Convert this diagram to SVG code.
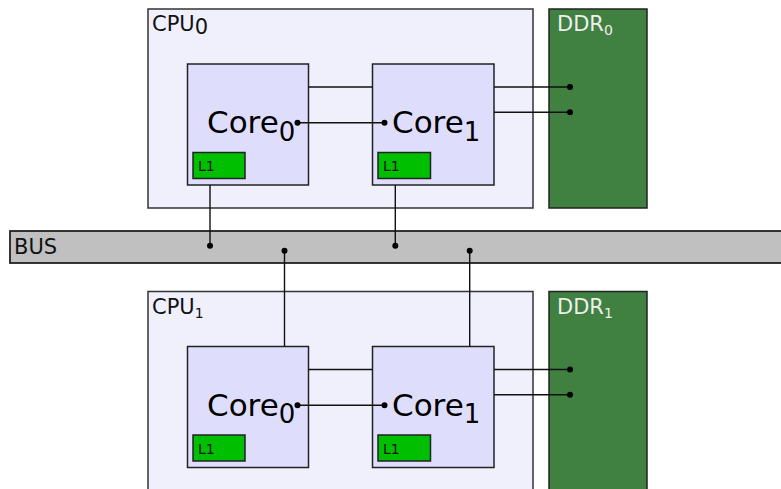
<svg xmlns="http://www.w3.org/2000/svg" width="781" height="489" viewBox="0 0 781 489">
<style>
text{font-family:"DejaVu Sans","Liberation Sans",sans-serif}
.cpu{fill:#f0f0fd;stroke:#333;stroke-width:1.5}
.core{fill:#dedefc;stroke:#222;stroke-width:1.5}
.l1{fill:#00bf00;stroke:#222;stroke-width:1.5}
.ddr{fill:#408040;stroke:#222;stroke-width:1.5}
.bus{fill:#c0c0c0;stroke:#222;stroke-width:1.8}
.lbl{font-size:21px;fill:#111}
.dlbl{font-size:21px;fill:#eeeeee}
.core-t{font-size:31px;fill:#000}
.l1t{font-size:14px;fill:#111}
.ln{stroke:#111;stroke-width:1.4;fill:none}
.dot{fill:#000}
</style>
<rect width="781" height="489" fill="#fff"/>
<g id="bus">
<rect class="bus" x="10" y="231" width="790" height="32"/>
<text class="lbl" x="14" y="254">BUS</text>
</g>
<g id="cpu0">
<rect class="cpu" x="148" y="9" width="385" height="199"/>
<text class="lbl" x="152" y="31">CPU<tspan dy="3">0</tspan></text>
</g>
<g id="ddr0">
<rect class="ddr" x="549" y="9" width="98" height="199"/>
<text class="dlbl" x="557" y="31">DDR<tspan font-size="14" dy="4">0</tspan></text>
</g>
<g id="cpu0-core0">
<rect class="core" x="187.5" y="64" width="121" height="121"/>
<text class="core-t" x="207" y="133">Core<tspan font-size="26" dy="7.5">0</tspan></text>
<rect class="l1" x="193" y="152.5" width="52" height="26"/>
<text class="l1t" x="198" y="171">L1</text>
</g>
<g id="cpu0-core1">
<rect class="core" x="372.5" y="64" width="121.5" height="121"/>
<text class="core-t" x="392" y="133">Core<tspan font-size="26" dy="7.5">1</tspan></text>
<rect class="l1" x="378" y="152.5" width="52.5" height="26"/>
<text class="l1t" x="383" y="171">L1</text>
</g>
<g id="cpu1">
<rect class="cpu" x="148" y="291.5" width="385" height="220"/>
<text class="lbl" x="152" y="313.5">CPU<tspan font-size="14" dy="4">1</tspan></text>
</g>
<g id="ddr1">
<rect class="ddr" x="549" y="291.5" width="98" height="220"/>
<text class="dlbl" x="557" y="313.5">DDR<tspan font-size="14" dy="4">1</tspan></text>
</g>
<g id="cpu1-core0">
<rect class="core" x="187.5" y="346.5" width="121" height="121"/>
<text class="core-t" x="207" y="415.5">Core<tspan font-size="26" dy="7.5">0</tspan></text>
<rect class="l1" x="193" y="435" width="52" height="26"/>
<text class="l1t" x="198" y="453.5">L1</text>
</g>
<g id="cpu1-core1">
<rect class="core" x="372.5" y="346.5" width="121.5" height="121"/>
<text class="core-t" x="392" y="415.5">Core<tspan font-size="26" dy="7.5">1</tspan></text>
<rect class="l1" x="378" y="435" width="52.5" height="26"/>
<text class="l1t" x="383" y="453.5">L1</text>
</g>
<g id="connectors">
<path class="ln" d="M308.5 87H372.5M297.5 122.7H384.5M494 87H570M494 112.3H570M210 185V245.7M395.3 185V245.7"/>
<path class="ln" d="M308.5 369.5H372.5M297.5 405.2H384.5M494 369.5H570M494 394.8H570M284.5 250.7V346.5M469.7 250.7V346.5"/>
<circle class="dot" cx="297.5" cy="122.7" r="3"/>
<circle class="dot" cx="384.5" cy="122.7" r="3"/>
<circle class="dot" cx="570" cy="87" r="3"/>
<circle class="dot" cx="570" cy="112.3" r="3"/>
<circle class="dot" cx="210" cy="245.7" r="3"/>
<circle class="dot" cx="395.3" cy="245.7" r="3"/>
<circle class="dot" cx="284.5" cy="250.7" r="3"/>
<circle class="dot" cx="469.7" cy="250.7" r="3"/>
<circle class="dot" cx="297.5" cy="405.2" r="3"/>
<circle class="dot" cx="384.5" cy="405.2" r="3"/>
<circle class="dot" cx="570" cy="369.5" r="3"/>
<circle class="dot" cx="570" cy="394.8" r="3"/>
</g>
</svg>
